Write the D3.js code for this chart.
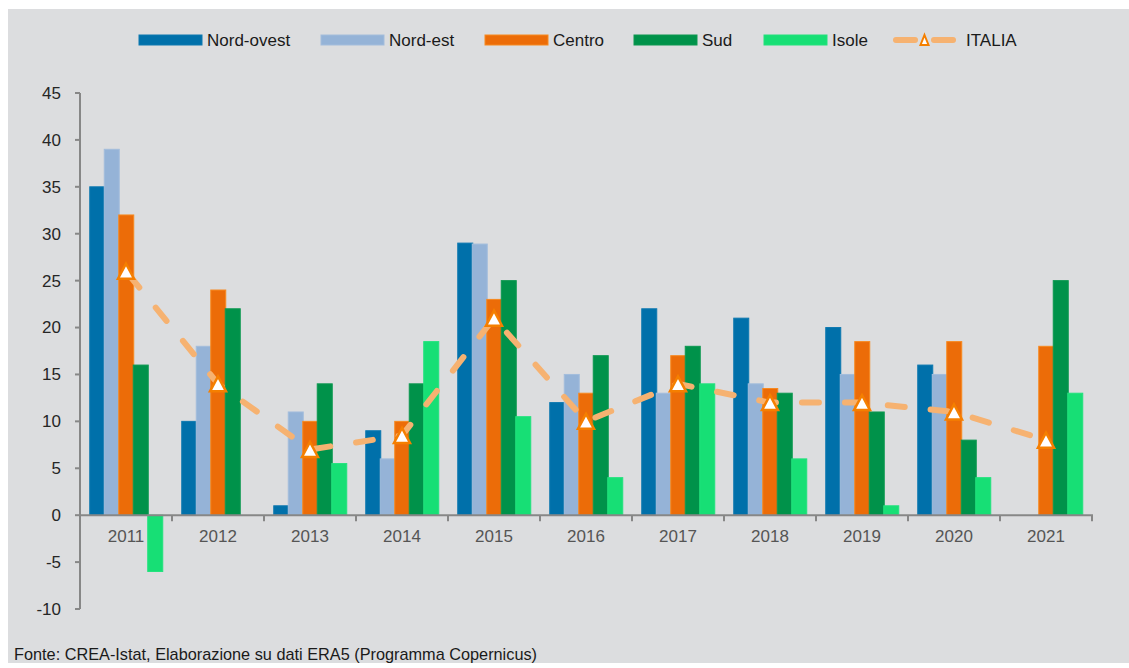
<!DOCTYPE html>
<html><head><meta charset="utf-8">
<script src="https://cdn.jsdelivr.net/npm/d3@7"></script>
<style>
html,body{margin:0;padding:0;background:#fff;}
svg{display:block;font-family:"Liberation Sans",Arial,sans-serif;}
</style></head>
<body><svg id="c" width="1129" height="668"></svg>
<script>
const years = ["2011","2012","2013","2014","2015","2016","2017","2018","2019","2020","2021"];
const seriesNames = ["Nord-ovest","Nord-est","Centro","Sud","Isole"];
const nordOvest = [35, 10, 1, 9, 29, 12, 22, 21, 20, 16, null];
const nordEst   = [39, 18, 11, 6, 28.9, 15, 13, 14, 15, 15, null];
const centro    = [32, 24, 10, 10, 23, 13, 17, 13.5, 18.5, 18.5, 18];
const sud       = [16, 22, 14, 14, 25, 17, 18, 13, 11, 8, 25];
const isole     = [-6, null, 5.5, 18.5, 10.5, 4, 14, 6, 1, 4, 13];
const italia    = [26, 14, 7, 8.5, 21, 10, 14, 12, 12, 11, 8];
const yTicks = [-10,-5,0,5,10,15,20,25,30,35,40,45];
const italiaName = "ITALIA";
const sourceText = "Fonte: CREA-Istat, Elaborazione su dati ERA5 (Programma Copernicus)";

const seriesValues = [nordOvest, nordEst, centro, sud, isole];
const fills   = ["#0070aa","#95b3d7","#ec6c08","#00924a","#17df75"];
const strokes = ["#0d78b0","#a3bddc","#f7891f","#0c9850","#22e27d"];

const svg = d3.select("#c");
svg.append("rect").attr("x",8).attr("y",9).attr("width",1121).attr("height",654).attr("fill","#dcdddf");

const x0 = d3.scaleBand().domain(years).range([80,1092]).paddingInner(0.212).paddingOuter(0.106);
const x1 = d3.scaleBand().domain(seriesNames).range([0,x0.bandwidth()]).padding(0);
const y = d3.scaleLinear().domain([-10,45]).range([609,93]);

// bars
seriesNames.forEach((s,i)=>{
  const data = years.map((yr,j)=>({yr, v:seriesValues[i][j]})).filter(d=>d.v!==null);
  svg.append("g").selectAll("rect").data(data).join("rect")
    .attr("x",d=>x0(d.yr)+x1(s))
    .attr("width",x1.bandwidth()+0.5)
    .attr("y",d=>y(Math.max(0,d.v)))
    .attr("height",d=>Math.abs(y(d.v)-y(0)))
    .attr("fill",fills[i])
    .attr("stroke",strokes[i]).attr("stroke-width",1);
});

// axes
const ax = svg.append("g").attr("stroke","#878787").attr("stroke-width",2);
ax.append("line").attr("x1",80).attr("x2",80).attr("y1",y(45)).attr("y2",y(-10));
ax.append("line").attr("x1",79).attr("x2",1093).attr("y1",y(0)).attr("y2",y(0));
yTicks.forEach(t=>{
  ax.append("line").attr("x1",75).attr("x2",80).attr("y1",y(t)).attr("y2",y(t));
});
years.forEach((yr,j)=>{
  const bx = x0(yr) - x0.step()*x0.paddingOuter() + x0.step();
  ax.append("line").attr("x1",bx).attr("x2",bx).attr("y1",y(0)).attr("y2",y(0)+6);
});
svg.append("g").selectAll("text").data(yTicks).join("text")
  .attr("x",61).attr("y",d=>y(d)).attr("dy","0.35em").attr("text-anchor","end")
  .attr("font-size",17).attr("fill","#262626").text(d=>d);
svg.append("g").selectAll("text").data(years).join("text")
  .attr("x",d=>x0(d)+x0.bandwidth()/2).attr("y",542).attr("text-anchor","middle")
  .attr("font-size",17).attr("fill","#555").text(d=>d);

// ITALIA line
const line = d3.line().x((d,j)=>x0(years[j])+x0.bandwidth()/2).y(d=>y(d));
svg.append("path").datum(italia).attr("d",line).attr("fill","none")
  .attr("stroke","#f6b271").attr("stroke-width",6).attr("stroke-linecap","round")
  .attr("stroke-dasharray","17,26").attr("stroke-dashoffset",-4);
const tri = (cx,cy,w,h)=>`M${cx},${cy-h/2}L${cx+w/2},${cy+h/2}L${cx-w/2},${cy+h/2}Z`;
svg.append("g").selectAll("path").data(italia).join("path")
  .attr("d",(d,j)=>tri(x0(years[j])+x0.bandwidth()/2,y(d),16,15))
  .attr("fill","#fff").attr("stroke","#f57f00").attr("stroke-width",2.5).attr("stroke-linejoin","miter");

// legend
const leg = svg.append("g");
const legX = [139,321,485,634,764];
seriesNames.forEach((s,i)=>{
  leg.append("rect").attr("x",legX[i]).attr("y",35).attr("width",63).attr("height",10)
    .attr("fill",fills[i]).attr("stroke",strokes[i]);
  leg.append("text").attr("x",legX[i]+68).attr("y",46).attr("font-size",17).attr("fill","#1a1a1a").text(s);
});
leg.append("line").attr("x1",896).attr("x2",915).attr("y1",40).attr("y2",40)
  .attr("stroke","#f6b271").attr("stroke-width",6).attr("stroke-linecap","round");
leg.append("line").attr("x1",934).attr("x2",953).attr("y1",40).attr("y2",40)
  .attr("stroke","#f6b271").attr("stroke-width",6).attr("stroke-linecap","round");
leg.append("path").attr("d",tri(924.5,40,8,10)).attr("fill","#fff").attr("stroke","#f57f00").attr("stroke-width",2);
leg.append("text").attr("x",966).attr("y",46).attr("font-size",17).attr("fill","#1a1a1a").text(italiaName);

// source
svg.append("text").attr("x",14).attr("y",660).attr("font-size",17)
  .attr("font-family","'Liberation Sans Narrow','Liberation Sans',Arial,sans-serif")
  .attr("textLength",523).attr("lengthAdjust","spacingAndGlyphs")
  .attr("fill","#1a1a1a").text(sourceText);
</script></body></html>
